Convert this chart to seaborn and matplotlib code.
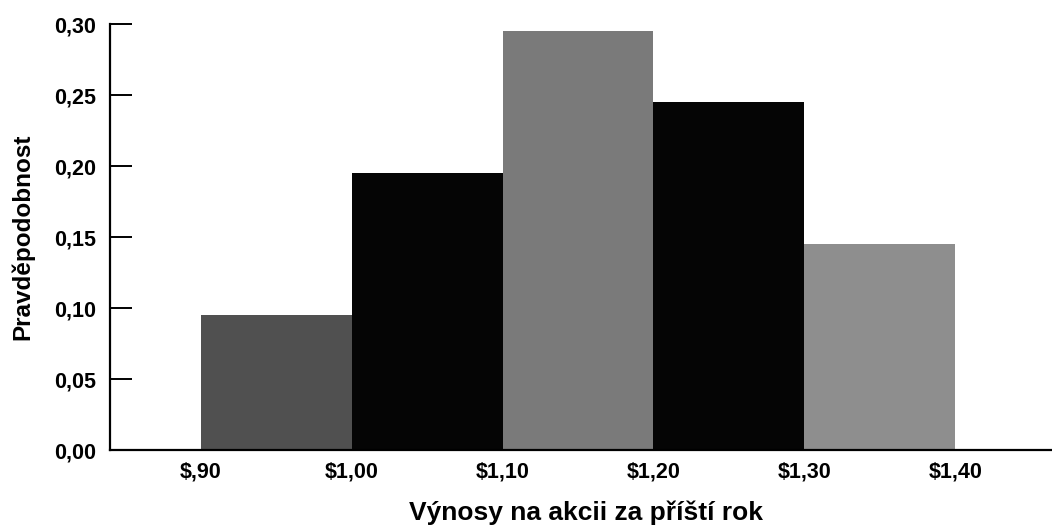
import numpy as np
import pandas as pd
import matplotlib
matplotlib.use("Agg")
import matplotlib.pyplot as plt
import seaborn as sns

# ---- data ----
edge_labels = [r"\$,90", r"\$1,00", r"\$1,10", r"\$1,20", r"\$1,30", r"\$1,40"]
intervals = ["0,90-1,00", "1,00-1,10", "1,10-1,20", "1,20-1,30", "1,30-1,40"]
probs = [0.095, 0.195, 0.295, 0.245, 0.145]
bar_colors = ["#505050", "#050505", "#7a7a7a", "#050505", "#8e8e8e"]
y_ticks = [0.00, 0.05, 0.10, 0.15, 0.20, 0.25, 0.30]
y_tick_labels = ["0,00", "0,05", "0,10", "0,15", "0,20", "0,25", "0,30"]

sns.set_theme(style="white")
plt.rcParams["font.family"] = ["Liberation Sans", "DejaVu Sans"]

df = pd.DataFrame({"interval": intervals, "prob": probs})

fig = plt.figure(figsize=(10.52, 5.28), dpi=100)
ax = fig.add_axes([0.1046, 0.1477, 0.8954, 0.8068])

sns.barplot(data=df, x="interval", y="prob", hue="interval",
            palette=dict(zip(intervals, bar_colors)), width=1.0,
            saturation=1, legend=False, ax=ax, linewidth=0)

ax.set_xlim(-1.10, 5.14)
ax.set_ylim(0, 0.30)
ax.set_xticks(np.arange(len(edge_labels)) - 0.5)
ax.set_xticklabels(edge_labels)
ax.set_yticks(y_ticks)
ax.set_yticklabels(y_tick_labels)

for s in ["top", "right"]:
    ax.spines[s].set_visible(False)
for s in ["left", "bottom"]:
    ax.spines[s].set_color("black")
    ax.spines[s].set_linewidth(1.6)

ax.tick_params(axis="y", direction="in", length=16, width=1.4, color="black",
               labelsize=15.5, pad=10, left=True)
ax.tick_params(axis="x", length=0, labelsize=15.5, pad=8)

ax.set_xlabel("Výnosy na akcii za příští rok", fontsize=19, fontweight="bold", color="black")
ax.set_ylabel("Pravděpodobnost", fontsize=17.5, fontweight="bold", color="black")
ax.xaxis.set_label_coords(0.505, -0.118)
ax.yaxis.set_label_coords(-0.08, 0.5)

for lbl in ax.get_xticklabels() + ax.get_yticklabels():
    lbl.set_color("black")
    lbl.set_fontweight("bold")

fig.savefig("out.png", dpi=100)
